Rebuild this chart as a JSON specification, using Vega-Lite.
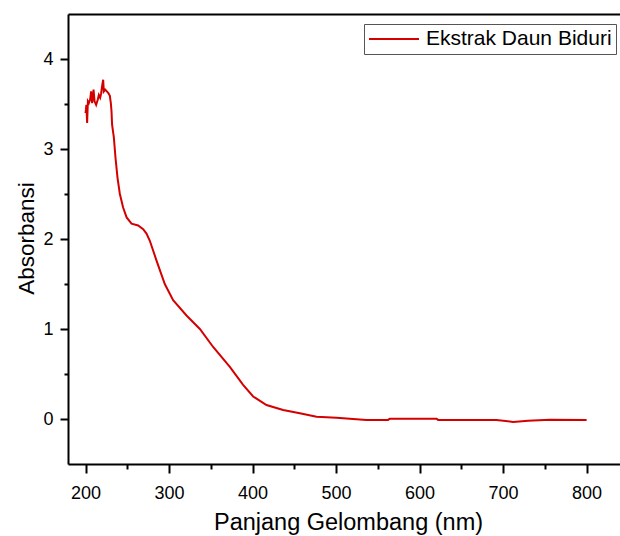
{
  "$schema": "https://vega.github.io/schema/vega-lite/v6.json",
  "autosize": "none",
  "padding": {"left": 68, "top": 14, "right": 0, "bottom": 72},
  "width": 552,
  "height": 450,
  "background": "white",
  "config": {
    "view": {"stroke": null},
    "font": "Liberation Sans",
    "axis": {"grid": false, "domainColor": "black", "tickColor": "black", "labelColor": "black", "titleColor": "black", "labelFont": "Liberation Sans", "titleFont": "Liberation Sans", "titleFontWeight": "normal"}
  },
  "data": {
    "values": [
      {"nm": 200, "abs": 3.40, "series": "Ekstrak Daun Biduri"},
      {"nm": 200.5, "abs": 3.44, "series": "Ekstrak Daun Biduri"},
      {"nm": 201, "abs": 3.49, "series": "Ekstrak Daun Biduri"},
      {"nm": 201.9, "abs": 3.29, "series": "Ekstrak Daun Biduri"},
      {"nm": 202.8, "abs": 3.53, "series": "Ekstrak Daun Biduri"},
      {"nm": 204, "abs": 3.51, "series": "Ekstrak Daun Biduri"},
      {"nm": 205.5, "abs": 3.55, "series": "Ekstrak Daun Biduri"},
      {"nm": 206.7, "abs": 3.64, "series": "Ekstrak Daun Biduri"},
      {"nm": 207.9, "abs": 3.51, "series": "Ekstrak Daun Biduri"},
      {"nm": 209.6, "abs": 3.66, "series": "Ekstrak Daun Biduri"},
      {"nm": 210.8, "abs": 3.53, "series": "Ekstrak Daun Biduri"},
      {"nm": 212.7, "abs": 3.49, "series": "Ekstrak Daun Biduri"},
      {"nm": 214.7, "abs": 3.55, "series": "Ekstrak Daun Biduri"},
      {"nm": 215.9, "abs": 3.60, "series": "Ekstrak Daun Biduri"},
      {"nm": 217.5, "abs": 3.57, "series": "Ekstrak Daun Biduri"},
      {"nm": 218.7, "abs": 3.62, "series": "Ekstrak Daun Biduri"},
      {"nm": 219.9, "abs": 3.70, "series": "Ekstrak Daun Biduri"},
      {"nm": 221.1, "abs": 3.77, "series": "Ekstrak Daun Biduri"},
      {"nm": 221.9, "abs": 3.64, "series": "Ekstrak Daun Biduri"},
      {"nm": 223.5, "abs": 3.66, "series": "Ekstrak Daun Biduri"},
      {"nm": 225.5, "abs": 3.64, "series": "Ekstrak Daun Biduri"},
      {"nm": 227.5, "abs": 3.62, "series": "Ekstrak Daun Biduri"},
      {"nm": 229.1, "abs": 3.59, "series": "Ekstrak Daun Biduri"},
      {"nm": 230.3, "abs": 3.51, "series": "Ekstrak Daun Biduri"},
      {"nm": 231.1, "abs": 3.42, "series": "Ekstrak Daun Biduri"},
      {"nm": 231.8, "abs": 3.27, "series": "Ekstrak Daun Biduri"},
      {"nm": 232.7, "abs": 3.21, "series": "Ekstrak Daun Biduri"},
      {"nm": 233.9, "abs": 3.13, "series": "Ekstrak Daun Biduri"},
      {"nm": 235.9, "abs": 2.90, "series": "Ekstrak Daun Biduri"},
      {"nm": 238.3, "abs": 2.68, "series": "Ekstrak Daun Biduri"},
      {"nm": 241.1, "abs": 2.50, "series": "Ekstrak Daun Biduri"},
      {"nm": 245, "abs": 2.35, "series": "Ekstrak Daun Biduri"},
      {"nm": 249.2, "abs": 2.24, "series": "Ekstrak Daun Biduri"},
      {"nm": 255.1, "abs": 2.17, "series": "Ekstrak Daun Biduri"},
      {"nm": 263, "abs": 2.15, "series": "Ekstrak Daun Biduri"},
      {"nm": 269, "abs": 2.11, "series": "Ekstrak Daun Biduri"},
      {"nm": 273, "abs": 2.06, "series": "Ekstrak Daun Biduri"},
      {"nm": 277, "abs": 1.98, "series": "Ekstrak Daun Biduri"},
      {"nm": 285, "abs": 1.76, "series": "Ekstrak Daun Biduri"},
      {"nm": 294.9, "abs": 1.50, "series": "Ekstrak Daun Biduri"},
      {"nm": 304.9, "abs": 1.32, "series": "Ekstrak Daun Biduri"},
      {"nm": 320.9, "abs": 1.15, "series": "Ekstrak Daun Biduri"},
      {"nm": 336.9, "abs": 1.00, "series": "Ekstrak Daun Biduri"},
      {"nm": 352.8, "abs": 0.80, "series": "Ekstrak Daun Biduri"},
      {"nm": 372.8, "abs": 0.58, "series": "Ekstrak Daun Biduri"},
      {"nm": 388.7, "abs": 0.38, "series": "Ekstrak Daun Biduri"},
      {"nm": 400.7, "abs": 0.25, "series": "Ekstrak Daun Biduri"},
      {"nm": 416.7, "abs": 0.155, "series": "Ekstrak Daun Biduri"},
      {"nm": 436.6, "abs": 0.10, "series": "Ekstrak Daun Biduri"},
      {"nm": 456.6, "abs": 0.063, "series": "Ekstrak Daun Biduri"},
      {"nm": 476.6, "abs": 0.025, "series": "Ekstrak Daun Biduri"},
      {"nm": 500.5, "abs": 0.015, "series": "Ekstrak Daun Biduri"},
      {"nm": 520.4, "abs": 0.0, "series": "Ekstrak Daun Biduri"},
      {"nm": 536.4, "abs": -0.011, "series": "Ekstrak Daun Biduri"},
      {"nm": 562.3, "abs": -0.01, "series": "Ekstrak Daun Biduri"},
      {"nm": 564.3, "abs": 0.003, "series": "Ekstrak Daun Biduri"},
      {"nm": 620.3, "abs": 0.003, "series": "Ekstrak Daun Biduri"},
      {"nm": 622.2, "abs": -0.01, "series": "Ekstrak Daun Biduri"},
      {"nm": 692.1, "abs": -0.01, "series": "Ekstrak Daun Biduri"},
      {"nm": 712, "abs": -0.033, "series": "Ekstrak Daun Biduri"},
      {"nm": 729.9, "abs": -0.019, "series": "Ekstrak Daun Biduri"},
      {"nm": 755.9, "abs": -0.008, "series": "Ekstrak Daun Biduri"},
      {"nm": 800, "abs": -0.01, "series": "Ekstrak Daun Biduri"}
    ]
  },
  "layer": [
    {
      "mark": {"type": "line", "strokeWidth": 2, "interpolate": "linear"},
      "encoding": {
        "x": {
          "field": "nm", "type": "quantitative",
          "scale": {"domain": [179, 840], "nice": false, "zero": false},
          "axis": {"orient": "bottom", "values": [200, 300, 400, 500, 600, 700, 800], "domainWidth": 2, "tickWidth": 2, "tickSize": 9, "labelFontSize": 18, "labelPadding": 11, "title": "Panjang Gelombang (nm)", "titleFontSize": 23.5, "titleAlign": "center", "titleBaseline": "middle", "titleAnchor": null, "titleX": 280, "titleY": 58}
        },
        "y": {
          "field": "abs", "type": "quantitative",
          "scale": {"domain": [-0.5, 4.5], "nice": false, "zero": false},
          "axis": {"orient": "left", "values": [0, 1, 2, 3, 4], "domainWidth": 2, "tickWidth": 2, "tickSize": 8, "labelFontSize": 18, "labelPadding": 7, "title": "Absorbansi", "titleFontSize": 22.5, "titleAngle": -90, "titleAlign": "center", "titleBaseline": "middle", "titleX": -42, "titleY": 224}
        },
        "color": {
          "field": "series", "type": "nominal",
          "scale": {"range": ["#d40000"]},
          "legend": {"title": null, "orient": "none", "legendX": 296, "legendY": 10, "symbolType": "stroke", "symbolSize": 2500, "symbolStrokeWidth": 2, "clipHeight": 22, "labelFontSize": 21, "labelLimit": 0, "labelColor": "black", "labelFont": "Liberation Sans", "labelOffset": 6, "strokeColor": "#555555", "padding": 4, "fillColor": "white"}
        }
      }
    },
    {
      "mark": {"type": "line", "opacity": 0},
      "encoding": {
        "x": {"field": "nm", "type": "quantitative", "axis": {"orient": "bottom", "values": [250, 350, 450, 550, 650, 750], "domain": false, "labels": false, "tickWidth": 2, "tickSize": 5, "title": null}},
        "y": {"field": "abs", "type": "quantitative", "axis": {"orient": "left", "values": [0.5, 1.5, 2.5, 3.5], "domain": false, "labels": false, "tickWidth": 2, "tickSize": 4, "title": null}}
      }
    },
    {
      "mark": {"type": "line", "opacity": 0},
      "encoding": {
        "x": {"field": "nm", "type": "quantitative", "axis": {"orient": "top", "domainWidth": 2, "ticks": false, "labels": false, "title": null}},
        "y": {"field": "abs", "type": "quantitative", "axis": null}
      }
    }
  ],
  "resolve": {"axis": {"x": "independent", "y": "independent"}}
}
